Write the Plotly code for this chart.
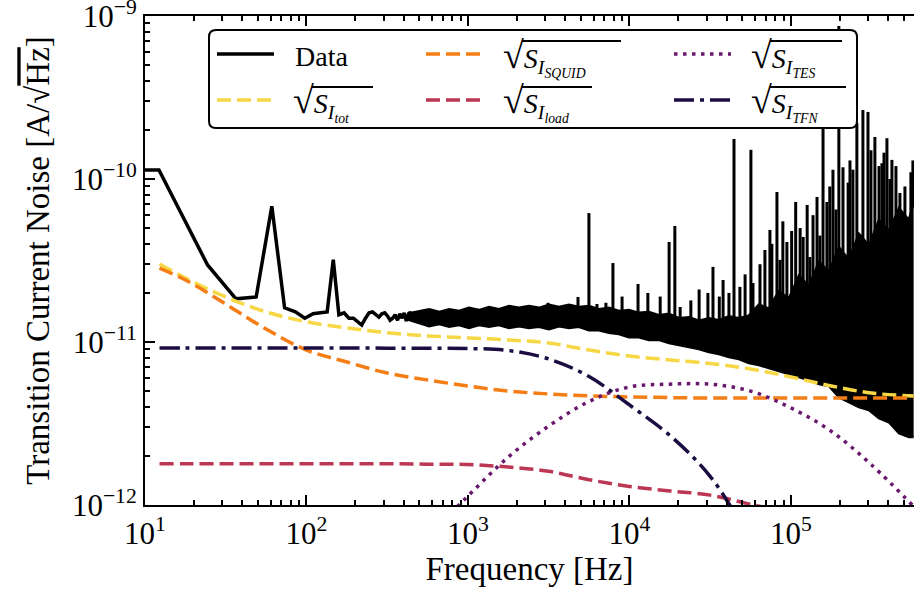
import numpy as np
import plotly.graph_objects as go

# ---------------- data ----------------
# low-frequency part of the measured spectrum (12.2 Hz bins)
data_freq = [10.0, 12.2, 24.4, 36.6, 48.8, 61.0, 73.2, 85.4, 97.6, 109.9, 122.1,
             134.3, 146.5, 158.7, 170.9, 183.1, 195.3, 207.5, 219.7, 231.9, 244.1,
             256.3, 268.6, 280.8, 293.0, 305.2, 317.4, 329.6, 341.8, 354.0, 366.2,
             378.4, 390.6, 402.8, 415.0, 427.2, 439.5, 451.7, 463.9, 476.1, 488.3]
data_asd = [1.135e-10, 1.135e-10, 2.97e-11, 1.84e-11, 1.89e-11, 6.8e-11, 1.62e-11,
            1.53e-11, 1.40e-11, 1.49e-11, 1.51e-11, 1.53e-11, 3.2e-11, 1.47e-11,
            1.51e-11, 1.40e-11, 1.40e-11, 1.33e-11, 1.27e-11, 1.40e-11, 1.51e-11,
            1.53e-11, 1.47e-11, 1.42e-11, 1.49e-11, 1.51e-11, 1.445e-11, 1.36e-11,
            1.40e-11, 1.47e-11, 1.36e-11, 1.49e-11, 1.40e-11, 1.51e-11, 1.345e-11,
            1.47e-11, 1.53e-11, 1.38e-11, 1.49e-11, 1.36e-11, 1.445e-11]

# dense high-frequency part of the spectrum: lower / upper extent of the trace
band_freq = [420, 500, 575, 665, 765, 880, 1015, 1170, 1350, 1555, 1795, 2070, 2385,
             2750, 3170, 3660, 4220, 4865, 5610, 6470, 7460, 8600, 9920, 11440,
             13200, 15200, 17550, 20240, 23340, 26920, 31040, 35800, 41290, 47620,
             54920, 63340, 73050, 84250, 97170, 112060, 129240, 149050, 171900,
             198250, 228640, 263700, 304100, 350700, 404500, 466500, 538000, 575000]
band_upper = [1.49e-11, 1.55e-11, 1.59e-11, 1.53e-11, 1.59e-11, 1.55e-11, 1.62e-11,
              1.57e-11, 1.64e-11, 1.59e-11, 1.66e-11, 1.62e-11, 1.66e-11, 1.62e-11,
              1.69e-11, 1.64e-11, 1.69e-11, 1.64e-11, 1.66e-11, 1.59e-11, 1.62e-11,
              1.55e-11, 1.57e-11, 1.51e-11, 1.53e-11, 1.46e-11, 1.49e-11, 1.40e-11,
              1.42e-11, 1.35e-11, 1.40e-11, 1.36e-11, 1.44e-11, 1.40e-11, 1.45e-11,
              1.70e-11, 1.60e-11, 2.05e-11, 1.85e-11, 2.55e-11, 2.20e-11, 3.10e-11,
              2.70e-11, 3.80e-11, 3.20e-11, 4.60e-11, 3.90e-11, 5.60e-11, 4.80e-11,
              6.60e-11, 5.60e-11, 7.20e-11]
band_lower = [1.38e-11, 1.31e-11, 1.25e-11, 1.29e-11, 1.24e-11, 1.27e-11, 1.22e-11,
              1.27e-11, 1.24e-11, 1.27e-11, 1.22e-11, 1.25e-11, 1.22e-11, 1.24e-11,
              1.20e-11, 1.25e-11, 1.22e-11, 1.24e-11, 1.18e-11, 1.18e-11, 1.14e-11,
              1.12e-11, 1.07e-11, 1.07e-11, 1.03e-11, 1.03e-11, 9.85e-12, 9.58e-12,
              9.32e-12, 9.06e-12, 8.68e-12, 8.44e-12, 8.09e-12, 7.86e-12, 7.43e-12,
              7.22e-12, 6.92e-12, 6.63e-12, 6.36e-12, 6.09e-12, 5.84e-12, 5.52e-12,
              5.37e-12, 4.59e-12, 4.28e-12, 3.99e-12, 3.82e-12, 3.41e-12, 3.22e-12,
              2.76e-12, 2.61e-12, 2.61e-12]

# narrow lines (spikes) in the spectrum: frequency and peak value
spike_freq = [3130, 4800, 5610, 6290, 7150, 7900, 9000, 11300, 13000, 15500, 17600,
              19100, 20600, 24000, 27000, 30600, 32900, 36000, 38000, 41300, 44400,
              48300, 52000, 56500, 58200, 64300, 69000, 74100,
              76200, 81900, 85500, 89100, 94400, 101000, 107000, 114000, 119000,
              126000, 131000, 137000, 145000, 151000, 158000, 167000, 174000,
              182000, 190000, 198000, 210000, 226000, 232000, 242000, 256000,
              279000, 300000, 313000, 331000, 351000, 366000, 377000, 393000,
              410000, 422000, 447000, 473000, 508000, 553000, 569000]
spike_peak = [1.74e-11, 1.89e-11, 6.18e-11, 1.71e-11, 1.74e-11, 3.05e-11, 1.90e-11,
              2.27e-11, 2.00e-11, 1.90e-11, 4.11e-11, 5.15e-11, 1.64e-11, 1.80e-11,
              2.10e-11, 2.00e-11, 2.89e-11, 1.90e-11, 2.40e-11, 2.00e-11, 1.76e-10,
              2.18e-11, 2.60e-11, 1.51e-10, 2.30e-11, 3.00e-11, 3.67e-11, 4.87e-11,
              4.00e-11, 8.32e-11, 3.19e-11, 5.50e-11, 4.11e-11, 4.80e-11, 7.23e-11,
              5.00e-11, 4.41e-11, 6.93e-11, 3.32e-11, 6.00e-11, 7.76e-11, 4.50e-11,
              5.37e-10, 7.23e-11, 9.00e-11, 1.14e-10, 6.50e-11, 8.68e-10, 1.18e-10,
              9.50e-11, 1.30e-10, 1.14e-10, 2.21e-10, 2.65e-10, 2.58e-10, 1.50e-10,
              1.81e-10, 1.20e-10, 1.25e-10, 1.45e-10, 1.78e-10, 1.00e-10, 1.31e-10,
              1.20e-10, 8.21e-11, 9.00e-11, 1.10e-10, 1.30e-10]

# noise model components
model_freq = [12.3, 17.8, 31.6, 56.2, 100, 178, 316, 562, 1000, 1778, 3162, 5623,
              1.0e4, 1.78e4, 3.16e4, 5.62e4, 1.0e5, 1.78e5, 3.16e5, 5.75e5]
s_tot = [3.01e-11, 2.47e-11, 1.89e-11, 1.53e-11, 1.33e-11, 1.22e-11, 1.14e-11,
         1.09e-11, 1.06e-11, 1.03e-11, 9.86e-12, 8.93e-12, 8.20e-12, 7.76e-12,
         7.38e-12, 6.83e-12, 6.10e-12, 5.37e-12, 4.86e-12, 4.67e-12]
s_squid = [2.84e-11, 2.40e-11, 1.71e-11, 1.20e-11, 8.93e-12, 7.54e-12, 6.45e-12,
           5.85e-12, 5.37e-12, 5.00e-12, 4.80e-12, 4.67e-12, 4.60e-12, 4.56e-12,
           4.53e-12, 4.53e-12, 4.53e-12, 4.53e-12, 4.53e-12, 4.53e-12]
s_load = [1.79e-12, 1.79e-12, 1.79e-12, 1.79e-12, 1.79e-12, 1.79e-12, 1.79e-12,
          1.78e-12, 1.77e-12, 1.71e-12, 1.61e-12, 1.43e-12, 1.30e-12, 1.22e-12,
          1.15e-12, 1.01e-12, 8.9e-13, 7.8e-13, 6.8e-13, 5.9e-13]
s_tes = [1.4e-14, 2.0e-14, 3.6e-14, 6.4e-14, 1.1e-13, 2.0e-13, 3.6e-13, 6.45e-13,
         1.135e-12, 1.97e-12, 3.05e-12, 4.32e-12, 5.30e-12, 5.51e-12, 5.51e-12,
         5.00e-12, 3.94e-12, 2.83e-12, 1.76e-12, 9.8e-13]
s_tfn = [9.19e-12, 9.19e-12, 9.19e-12, 9.19e-12, 9.19e-12, 9.18e-12, 9.17e-12,
         9.15e-12, 9.12e-12, 8.87e-12, 7.87e-12, 6.14e-12, 4.11e-12, 2.67e-12,
         1.50e-12, 6.2e-13, 2.6e-13, 1.0e-13, 4.0e-14, 1.3e-14]

x_major = [1e1, 1e2, 1e3, 1e4, 1e5]
x_major_text = ["10<sup>1</sup>", "10<sup>2</sup>", "10<sup>3</sup>",
                "10<sup>4</sup>", "10<sup>5</sup>"]
y_major = [1e-12, 1e-11, 1e-10, 1e-9]
y_major_text = ["10<sup>\u221212</sup>", "10<sup>\u221211</sup>",
                "10<sup>\u221210</sup>", "10<sup>\u22129</sup>"]

# ---------------- styling ----------------
FONT = "Liberation Serif"
C_TOT = "#f6d746"
C_SQUID = "#f57d15"
C_LOAD = "#bc3754"
C_TES = "#6a176e"
C_TFN = "#1b0c41"
DASH = "14px,6px"
DOT = "3.5px,5.5px"
DASHDOT = "20px,6px,4px,6px"

# plot-area pixel box (used for placing the hand-drawn legend)
PL, PR, PT, PB = 145, 914, 16, 505


def px(v):
    return (v - PL) / (PR - PL)


def py(v):
    return (PB - v) / (PB - PT)


x_minor = [m * 10.0 ** e for e in range(1, 6) for m in range(2, 10)]
y_minor = [m * 10.0 ** e for e in range(-12, -9) for m in range(2, 10)]

fig = go.Figure()

# measured spectrum
fig.add_trace(go.Scatter(x=data_freq, y=data_asd, mode="lines", name="Data",
                         line=dict(color="black", width=3.5)))
fig.add_trace(go.Scatter(x=band_freq, y=band_lower, mode="lines", name="Data",
                         line=dict(color="black", width=2.5)))
fig.add_trace(go.Scatter(x=band_freq, y=band_upper, mode="lines", name="Data",
                         fill="tonexty", fillcolor="black",
                         line=dict(color="black", width=2.5)))
lb = np.log10(band_freq)
lu = np.log10(band_upper)
sx, sy = [], []
for f, p in zip(spike_freq, spike_peak):
    base = 10 ** np.interp(np.log10(f), lb, lu)
    sx += [f, f, None]
    sy += [base * 0.97, p, None]
fig.add_trace(go.Scatter(x=sx, y=sy, mode="lines", name="Data",
                         line=dict(color="black", width=3)))

# noise model
models = [
    ("tot", s_tot, C_TOT, DASH),
    ("SQUID", s_squid, C_SQUID, DASH),
    ("load", s_load, C_LOAD, DASH),
    ("TES", s_tes, C_TES, DOT),
    ("TFN", s_tfn, C_TFN, DASHDOT),
]
for sub, vals, col, dash in models:
    fig.add_trace(go.Scatter(x=model_freq, y=vals, mode="lines",
                             name="\u221aS_I_" + sub,
                             line=dict(color=col, width=3.5, dash=dash,
                                       shape="spline")))

axis_common = dict(type="log", showline=True, linewidth=2, linecolor="black",
                   ticks="inside", ticklen=10, tickwidth=2, tickcolor="black",
                   showgrid=False, zeroline=False, tickmode="array",
                   automargin=False, ticklabeloverflow="allow",
                   tickfont=dict(family=FONT, size=31, color="black"))

fig.update_xaxes(range=[1, 5.762], tickvals=x_major, ticktext=x_major_text,
                 mirror="ticks",
                 minor=dict(tickmode="array", tickvals=x_minor, ticks="inside",
                            ticklen=5, tickwidth=1.5, tickcolor="black",
                            showgrid=False),
                 title=dict(text="Frequency [Hz]", font=dict(family=FONT, size=33),
                            standoff=4),
                 **axis_common)
fig.update_yaxes(range=[-12, -9], tickvals=y_major, ticktext=y_major_text,
                 minor=dict(tickmode="array", tickvals=y_minor, ticks="inside",
                            ticklen=5, tickwidth=1.5, tickcolor="black",
                            showgrid=False),
                 title=dict(text="Transition Current Noise [A/\u221a<span style="
                                 "'text-decoration:overline'>Hz</span>]",
                            font=dict(family=FONT, size=33), standoff=12),
                 **axis_common)

# ---------------- hand-drawn legend (matplotlib style, 3 columns) ----------------
shapes = []
annotations = []
bx0, bx1, by0, by1, r = 209, 857, 30, 128, 7
pts = [(bx0 + r, by0), (bx1 - r, by0), (bx1, by0), (bx1, by0 + r), (bx1, by1 - r),
       (bx1, by1), (bx1 - r, by1), (bx0 + r, by1), (bx0, by1), (bx0, by1 - r),
       (bx0, by0 + r), (bx0, by0)]
P = [(px(a), py(b)) for a, b in pts]
path = ("M {0[0]},{0[1]} L {1[0]},{1[1]} Q {2[0]},{2[1]} {3[0]},{3[1]} "
        "L {4[0]},{4[1]} Q {5[0]},{5[1]} {6[0]},{6[1]} L {7[0]},{7[1]} "
        "Q {8[0]},{8[1]} {9[0]},{9[1]} L {10[0]},{10[1]} "
        "Q {11[0]},{11[1]} {0[0]},{0[1]} Z").format(*P)
shapes.append(dict(type="path", path=path, xref="paper", yref="paper",
                   line=dict(color="black", width=2), fillcolor="white",
                   layer="above"))

entries = [
    # label, color, dash, sample x0, row y, text x, overline end (or None)
    ("Data", "black", "solid", 217, 54, 293, None),
    ("tot", C_TOT, DASH, 217, 100, 293, 373),
    ("SQUID", C_SQUID, DASH, 426, 54, 503, 621),
    ("load", C_LOAD, DASH, 426, 100, 503, 592),
    ("TES", C_TES, DOT, 674, 54, 751, 842),
    ("TFN", C_TFN, DASHDOT, 674, 100, 751, 846),
]
for lab, col, dash, sx0, ry, tx, oend in entries:
    shapes.append(dict(type="line", xref="paper", yref="paper",
                       x0=px(sx0), x1=px(sx0 + 57), y0=py(ry), y1=py(ry),
                       line=dict(color=col, width=3.5, dash=dash), layer="above"))
    if oend is None:
        annotations.append(dict(text="Data", x=px(tx), y=py(ry + 2), xref="paper",
                                yref="paper", xanchor="left", yanchor="middle",
                                showarrow=False,
                                font=dict(family=FONT, size=28, color="black")))
    else:
        txt = ("<span style='font-size:38px'>\u221a</span><i>S</i><sub><i>I</i>"
               "<sub><i>%s</i></sub></sub>" % lab)
        annotations.append(dict(text=txt, x=px(tx - 2), y=py(ry + 3), xref="paper",
                                yref="paper", xanchor="left", yanchor="middle",
                                showarrow=False,
                                font=dict(family=FONT, size=28, color="black")))
        top = ry - 13
        shapes.append(dict(type="line", xref="paper", yref="paper",
                           x0=px(tx + 19), x1=px(oend), y0=py(top), y1=py(top),
                           line=dict(color="black", width=2), layer="above"))

fig.update_layout(
    width=914, height=591,
    margin=dict(l=145, r=0, t=16, b=86),
    paper_bgcolor="white", plot_bgcolor="white",
    font=dict(family=FONT, size=31, color="black"),
    showlegend=False,
    shapes=shapes,
    annotations=annotations,
)

fig.write_html("out.html",
               config={"displayModeBar": False},
               post_script="document.body.style.margin='0px';"
                           "document.body.style.overflow='hidden';")
